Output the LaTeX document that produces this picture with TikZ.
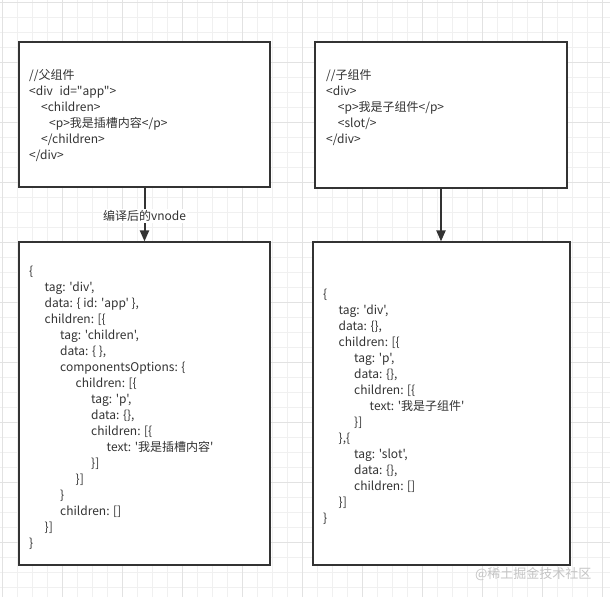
\documentclass[tikz,border=0pt]{standalone}
\usepackage{fontspec}
\usetikzlibrary{arrows.meta}
\newfontfamily\cjkfont[Ligatures=TeXOff]{Noto Sans CJK SC}
\definecolor{ink}{HTML}{333333}
\definecolor{gridminor}{HTML}{F0F0F0}
\definecolor{gridmajor}{HTML}{E2E2E2}
\definecolor{mark}{HTML}{C4C4C4}
\newlength\indstep
\setlength\indstep{15.5pt}
\newcommand\lvl[1]{\hspace*{#1\indstep}}
\tikzset{
  box/.style={draw=ink, line width=1.2pt, fill=white, inner sep=0pt},
  code/.style={font=\cjkfont\fontsize{12}{16}\selectfont, text=ink, align=left, inner sep=0pt, anchor=north west},
  flow/.style={draw=ink, line width=2pt, -{Triangle[width=9pt,length=11pt]}}
}
\begin{document}
\begin{tikzpicture}[x=1pt,y=-1pt]
    \useasboundingbox (0,0) rectangle (610,597);
    \fill[white] (0,0) rectangle (610,597);
    % grid paper
    \foreach \k in {0,...,40} {
        \pgfmathsetmacro\pos{2.5+15*\k}
        \draw[gridminor, line width=0.8pt] (\pos,0) -- (\pos,597);
        \draw[gridminor, line width=0.8pt] (0,\pos) -- (610,\pos);
    }
    \foreach \k in {0,...,10} {
        \pgfmathsetmacro\pos{2.5+60*\k}
        \draw[gridmajor, line width=0.8pt] (\pos,0) -- (\pos,597);
        \draw[gridmajor, line width=0.8pt] (0,\pos) -- (610,\pos);
    }
    % boxes
    \node[box, minimum width=251pt, minimum height=145pt] (parent) at (144.5,114.5) {};
    \node[box, minimum width=252pt, minimum height=146pt] (child) at (441,115) {};
    \node[box, minimum width=251pt, minimum height=323pt] (parentvnode) at (144.5,403.5) {};
    \node[box, minimum width=257pt, minimum height=323pt] (childvnode) at (441.5,403.5) {};
    % source code
    \node[code] (parentsrc) at (29,69) {//父组件\\
        <div\hspace*{4pt} id="app">\\
        \hspace*{12pt}<children>\\
        \hspace*{20pt}<p>我是插槽内容</p>\\
        \hspace*{12pt}</children>\\
        </div>};
    \node[code] (childsrc) at (326,69) {//子组件\\
        <div>\\
        \hspace*{11.7pt}<p>我是子组件</p>\\
        \hspace*{11.7pt}<slot/>\\
        </div>};
    % compiled vnodes
    \node[code] (parentvtext) at (29,265.5) {\{\\
        \lvl{1}tag: 'div',\\
        \lvl{1}data: \{ id: 'app' \},\\
        \lvl{1}children: [\{\\
        \lvl{2}tag: 'children',\\
        \lvl{2}data: \{ \},\\
        \lvl{2}componentsOptions: \{\\
        \lvl{3}children: [\{\\
        \lvl{4}tag: 'p',\\
        \lvl{4}data: \{\},\\
        \lvl{4}children: [\{\\
        \lvl{5}text: '我是插槽内容'\\
        \lvl{4}\}]\\
        \lvl{3}\}]\\
        \lvl{2}\}\\
        \lvl{2}children: []\\
        \lvl{1}\}]\\
        \}};
    \node[code] (childvtext) at (323,289) {\{\\
        \lvl{1}tag: 'div',\\
        \lvl{1}data: \{\},\\
        \lvl{1}children: [\{\\
        \lvl{2}tag: 'p',\\
        \lvl{2}data: \{\},\\
        \lvl{2}children: [\{\\
        \lvl{3}text: '我是子组件'\\
        \lvl{2}\}]\\
        \lvl{1}\},\{\\
        \lvl{2}tag: 'slot',\\
        \lvl{2}data: \{\},\\
        \lvl{2}children: []\\
        \lvl{1}\}]\\
        \}};
    % connectors
    \draw[flow] (parent) -- (parentvnode)
        node[pos=0.5, yshift=-1.5pt, fill=white, inner sep=1pt, text=ink, font=\cjkfont\fontsize{12}{14}\selectfont] (compilelabel) {编译后的vnode};
    \draw[flow] (child) -- (child |- childvnode.north);
    \node[text=mark, font=\cjkfont\fontsize{13}{15}\selectfont, anchor=east] (watermark) at (595,574) {@稀土掘金技术社区};
\end{tikzpicture}
\end{document}
